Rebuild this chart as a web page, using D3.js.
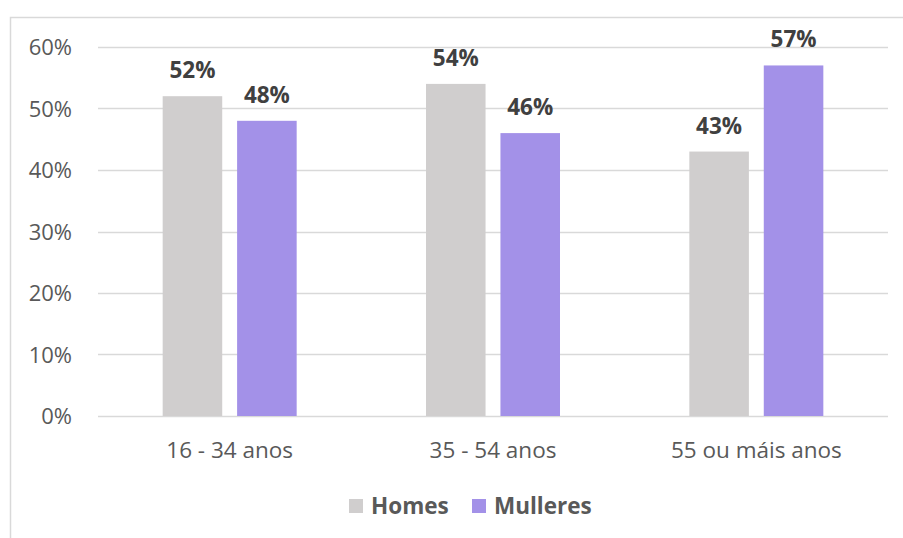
<!DOCTYPE html>
<html>
<head>
<meta charset="utf-8">
<script src="https://cdn.jsdelivr.net/npm/d3@7"></script>
<style>
  html, body { margin: 0; padding: 0; background: #fff; }
  svg { display: block; font-family: "Open Sans", "Noto Sans", sans-serif; }
</style>
</head>
<body>
<svg id="chart" width="903" height="538"></svg>
<script>
// Age groups and share of each sex within the group
const categories = ["16 - 34 anos", "35 - 54 anos", "55 ou máis anos"];
const seriesNames = ["Homes", "Mulleres"];
const homes = [0.52, 0.54, 0.43];
const mulleres = [0.48, 0.46, 0.57];
const yTicks = [0, 0.1, 0.2, 0.3, 0.4, 0.5, 0.6];
const colors = ["#d0cece", "#a391e8"];

const series = [homes, mulleres];
const svg = d3.select("#chart");

// Chart frame
svg.append("rect")
  .attr("x", 10.5).attr("y", 17.5)
  .attr("width", 920).attr("height", 540)
  .attr("fill", "#fff").attr("stroke", "#d9d9d9").attr("stroke-width", 1.5);

const plot = { left: 98, right: 888, top: 47, bottom: 416 };

const x = d3.scaleBand().domain(categories).range([plot.left, plot.right]);
const xs = d3.scaleBand().domain(seriesNames).range([-37.5 - 29.5, 37.5 + 29.5]).paddingInner(0.2);
const y = d3.scaleLinear().domain([0, 0.6]).range([plot.bottom, plot.top]);

// Horizontal gridlines
svg.append("g").selectAll("line").data(yTicks).join("line")
  .attr("x1", plot.left).attr("x2", plot.right)
  .attr("y1", d => Math.round(y(d)) + 0.5).attr("y2", d => Math.round(y(d)) + 0.5)
  .attr("stroke", "#d9d9d9").attr("stroke-width", 1.5);

// Y axis labels
const yAxis = d3.axisLeft(y).tickValues(yTicks).tickFormat(d3.format(".0%")).tickSize(0).tickPadding(0);
const yg = svg.append("g").attr("transform", `translate(${plot.left - 26},0)`).call(yAxis);
yg.select(".domain").remove();
yg.selectAll("text").attr("fill", "#595959").style("font-size", "22px")
  .style("font-family", "\"Open Sans\", sans-serif").attr("dy", "0.35em");

// X axis labels
const xAxis = d3.axisBottom(x).tickSize(0).tickPadding(0);
const xg = svg.append("g").attr("transform", `translate(0,${plot.bottom + 26})`).call(xAxis);
xg.select(".domain").remove();
xg.selectAll("text").attr("fill", "#595959").style("font-size", "22.5px")
  .style("font-family", "\"Open Sans\", sans-serif").attr("dy", "0.7em");

// Bars and value labels
const groups = svg.append("g").selectAll("g").data(categories).join("g")
  .attr("transform", c => `translate(${x(c) + x.bandwidth() / 2},0)`);

groups.each(function(c, i) {
  const g = d3.select(this);
  seriesNames.forEach((s, j) => {
    const v = series[j][i];
    g.append("rect")
      .attr("x", xs(s)).attr("width", xs.bandwidth())
      .attr("y", y(v)).attr("height", y(0) - y(v))
      .attr("fill", colors[j]);
    g.append("text")
      .attr("x", xs(s) + xs.bandwidth() / 2).attr("y", y(v) - 18)
      .attr("text-anchor", "middle")
      .attr("fill", "#404040").style("font-size", "22.5px").style("font-weight", "bold")
      .text(d3.format(".0%")(v));
  });
});

// Legend
const legend = svg.append("g").attr("transform", "translate(349,499)");
const legendOffsets = [0, 123];
seriesNames.forEach((s, j) => {
  const lg = legend.append("g").attr("transform", `translate(${legendOffsets[j]},0)`);
  lg.append("rect").attr("width", 14).attr("height", 14).attr("fill", colors[j]);
  lg.append("text").attr("x", 22).attr("y", 7).attr("dy", "0.36em")
    .attr("fill", "#595959").style("font-size", "22.5px").style("font-weight", "bold")
    .text(s);
});
</script>
</body>
</html>
